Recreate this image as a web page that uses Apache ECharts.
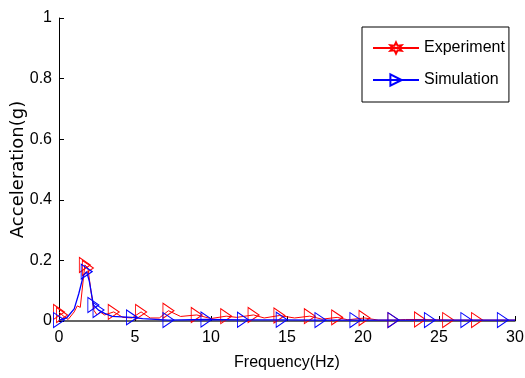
<!DOCTYPE html>
<html>
<head>
<meta charset="utf-8">
<script src="https://cdn.jsdelivr.net/npm/echarts@6/dist/echarts.min.js"></script>
<style>
html,body{margin:0;padding:0;background:#fff;}
#c{width:525px;height:378px;}
</style>
</head>
<body>
<div id="c"></div>
<script>
// Experiment: frequency (Hz), acceleration (g), marker flag (1 = marker drawn)
const expFreq = [0, 0.2, 0.6, 1.0, 1.2, 1.4, 1.7, 1.9, 2.1, 2.3, 2.5, 2.7, 3.0, 3.6, 4.2, 4.8, 5.4, 6.0, 6.6, 7.2, 8.0, 9.06, 10.0, 11.0, 11.7, 12.8, 13.5, 14.5, 15.5, 16.5, 17.3, 18.3, 19.0, 20.1, 21.0, 22.0, 22.8, 23.75, 25.6, 27.5, 30];
const expAcc  = [0.03, 0.02, 0.005, 0.03, 0.05, 0.045, 0.185, 0.175, 0.1, 0.035, 0.02, 0.03, 0.02, 0.03, 0.012, 0.01, 0.03, 0.01, 0.01, 0.034, 0.015, 0.02, 0.008, 0.016, 0.012, 0.02, 0.01, 0.018, 0.01, 0.016, 0.006, 0.012, 0.004, 0.01, 0.003, 0.003, 0.005, 0.005, 0.003, 0.003, 0.003];
const expMark = [1, 1, 0, 0, 0, 0, 1, 1, 0, 0, 0, 0, 0, 1, 0, 0, 1, 0, 0, 1, 0, 1, 0, 1, 0, 1, 0, 1, 0, 1, 0, 1, 0, 1, 0, 1, 0, 1, 1, 1, 0];

// Simulation
const simFreq = [0, 0.2, 0.5, 1.0, 1.3, 1.6, 1.82, 2.0, 2.26, 2.6, 3.0, 3.5, 4.8, 5.5, 7.2, 9.7, 12.1, 14.65, 17.2, 19.5, 22.0, 24.4, 26.8, 29.2, 30];
const simAcc  = [0.003, 0.005, 0.01, 0.04, 0.09, 0.15, 0.163, 0.13, 0.053, 0.036, 0.025, 0.015, 0.012, 0.008, 0.003, 0.005, 0.004, 0.004, 0.003, 0.003, 0.003, 0.003, 0.003, 0.003, 0.003];
const simMark = [1, 0, 0, 0, 0, 0, 1, 0, 1, 1, 0, 0, 1, 0, 1, 1, 1, 1, 1, 1, 1, 1, 1, 1, 0];

const xTicks = [0, 5, 10, 15, 20, 25, 30];
const yTicks = [0, 0.2, 0.4, 0.6, 0.8, 1];

const FONT = "'Liberation Sans', Arial, sans-serif";
const hexagram = 'path://M0,-10 L2.4,-4.2 L8.66,-5 L4.8,0 L8.66,5 L2.4,4.2 L0,10 L-2.4,4.2 L-8.66,5 L-4.8,0 L-8.66,-5 L-2.4,-4.2 Z';

function build(fr, ac, mk, size) {
  return fr.map((f, i) => ({
    value: [f, ac[i]],
    symbol: mk[i] ? 'triangle' : 'none',
    symbolRotate: -90,
    symbolSize: size
  }));
}

const chart = echarts.init(document.getElementById('c'), null, {renderer: 'canvas'});
chart.setOption({
  animation: false,
  backgroundColor: '#fff',
  grid: {left: 59, right: 10, top: 18, bottom: 57, containLabel: false, outerBoundsMode: 'none'},
  legend: {
    orient: 'vertical',
    left: 362, top: 27,
    padding: [13, 4, 14, 10],
    itemWidth: 46, itemHeight: 14, itemGap: 16,
    borderColor: '#000', borderWidth: 1, backgroundColor: '#fff',
    textStyle: {fontFamily: FONT, fontSize: 16, color: '#000'},
    data: ['Experiment', 'Simulation']
  },
  xAxis: {
    type: 'value', min: 0, max: 30, interval: 5,
    name: 'Frequency(Hz)', nameLocation: 'middle', nameGap: 34, nameMoveOverlap: false,
    nameTextStyle: {fontFamily: FONT, fontSize: 16, color: '#000'},
    axisLine: {show: true, onZero: false, lineStyle: {color: '#333', width: 1.5}},
    axisTick: {show: true, inside: true, length: 5, lineStyle: {color: '#000'}},
    axisLabel: {
      margin: 9, fontFamily: FONT, fontSize: 16, color: '#000',
      formatter: v => xTicks.includes(v) ? String(v) : ''
    },
    splitLine: {show: false}
  },
  yAxis: {
    type: 'value', min: 0, max: 1, interval: 0.2,
    name: 'Acceleration(g)', nameLocation: 'middle', nameGap: 32, nameMoveOverlap: false,
    nameTextStyle: {fontFamily: "'DejaVu Sans', sans-serif", fontSize: 18, color: '#000'},
    axisLine: {show: true, onZero: false, lineStyle: {color: '#000', width: 1}},
    axisTick: {show: true, inside: true, length: 5, lineStyle: {color: '#000'}},
    axisLabel: {
      margin: 7, fontFamily: FONT, fontSize: 16, color: '#000',
      formatter: v => {
        const t = yTicks.find(y => Math.abs(y - v) < 1e-9);
        return t === undefined ? '' : String(t);
      }
    },
    splitLine: {show: false}
  },
  series: [
    {
      name: 'Experiment', type: 'line',
      symbol: hexagram, symbolRotate: 0,
      showAllSymbol: true, clip: false,
      lineStyle: {color: '#ff0000', width: 1},
      itemStyle: {color: 'rgba(0,0,0,0)', borderColor: '#ff0000', borderWidth: 1},
      emphasis: {disabled: true},
      data: build(expFreq, expAcc, expMark, [15, 11]),
      z: 2
    },
    {
      name: 'Simulation', type: 'line',
      symbol: 'triangle', symbolRotate: -90,
      showAllSymbol: true, clip: false,
      lineStyle: {color: '#0000ff', width: 1.3},
      itemStyle: {color: 'rgba(0,0,0,0)', borderColor: '#0000ff', borderWidth: 1},
      emphasis: {disabled: true},
      data: build(simFreq, simAcc, simMark, [15, 11]),
      z: 3
    }
  ]
});
</script>
</body>
</html>
